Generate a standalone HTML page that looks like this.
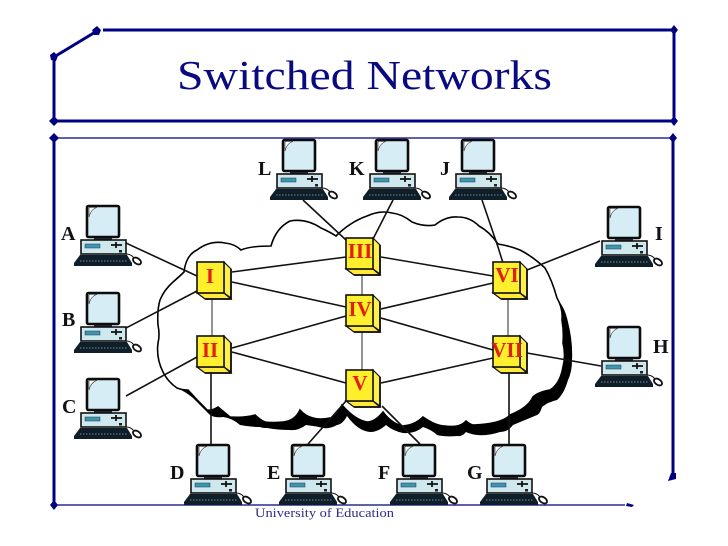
<!DOCTYPE html>
<html><head><meta charset="utf-8"><style>
html,body{margin:0;padding:0;background:#fff;width:728px;height:546px;overflow:hidden}
svg{display:block}
text{font-family:"Liberation Serif",serif}
.l{font-size:20px;font-weight:bold;fill:#111}
.s{font-size:21px;font-weight:bold;fill:#e0200c;text-anchor:middle}
.n{stroke:#111;stroke-width:1.6;fill:none}
.g{stroke:#666;stroke-width:1.4;fill:none}
.f{stroke:#000080;stroke-width:3;fill:none}
.t{stroke:#000080;stroke-width:1.3;fill:none}
</style></head><body>
<svg width="728" height="546" viewBox="0 0 728 546" xmlns="http://www.w3.org/2000/svg">
<defs>
<g id="pc">
<rect x="0" y="1" width="32" height="31" rx="1.5" fill="#d6edf5" stroke="#0c0c0c" stroke-width="2.6"/>
<path d="M2 12V3.5Q2 2.5 3 2.5H10Q4 4 2 12Z" fill="#fff" stroke="#333" stroke-width=".6"/>
<rect x="7" y="33" width="18" height="2.6" fill="#223"/>
<rect x="-6" y="35" width="45" height="14" fill="#cfe8ee" stroke="#111" stroke-width="1.6"/>
<rect x="-2" y="39" width="15" height="4" fill="#3c98b0" stroke="#234" stroke-width=".5"/>
<path d="M24 40H35M29 37V43" stroke="#111" stroke-width="1.8"/>
<rect x="32" y="45" width="3" height="2.5" fill="#222"/>
<path d="M-7 50H40L45 58V61H-13V58Z" fill="#0f1f2a"/>
<path d="M-7 56H40" stroke="#9ab" stroke-width=".7" stroke-dasharray="1.5 1.5"/>
<path d="M39 49Q44 49 47 53" stroke="#111" stroke-width="1" fill="none"/>
<ellipse cx="50" cy="56" rx="4.5" ry="2.8" transform="rotate(35 50 56)" fill="#fff" stroke="#111" stroke-width="1.8"/>
</g>
<g id="sw">
<path d="M27 0L34 7V36L27 31Z" fill="#fff04a" stroke="#111" stroke-width="1.2"/>
<path d="M0 31H27L34 37H8Z" fill="#ffe93a" stroke="#111" stroke-width="1.2"/>
<rect x="0" y="0" width="27" height="31" fill="#ffef2c" stroke="#111" stroke-width="1.6"/>
<path d="M34 7V37H8" stroke="#111" stroke-width="1.8" fill="none"/>
</g>
</defs>

<path class="f" d="M54 57L97 31M103 30H674V121H54V57"/>
<path class="t" d="M54 138H674M54 505H625"/>
<path class="f" d="M54 138V505M673 138V477"/>
<g fill="#000080">
<path d="M54 52l4 4-2 5-5-1-1-5z"/><path d="M97 26l4 4-2 5-5 0-2-5z"/>
<path d="M54 116l5 5-5 5-5-5zM54 133l5 5-5 5-5-5z"/>
<path d="M674 25l4 5-4 5-4-5zM674 116l4 5-4 5-4-5zM673 133l4 5-4 5-4-5zM54 500l4 5-4 5-4-5z"/>
<path d="M668 481l3-8h5v6z"/><path d="M627 503l7 2-2 2-6-1z"/>
</g>

<text x="177" y="89" font-size="41" fill="#0a0a80" textLength="375" lengthAdjust="spacingAndGlyphs">Switched Networks</text>
<text x="255" y="517" font-size="12.5" fill="#2c2c88" textLength="139" lengthAdjust="spacingAndGlyphs">University of Education</text>

<!-- cloud shadow -->
<path fill="#000" d="M552 285L558 300Q565 308 568 322Q573 342 572 360Q572 372 568 380Q564 394 557 400Q548 402 542 407Q540 414 537 415Q525 420 513 425Q508 432 500 432Q488 436 477 435Q470 434 466 432Q462 437 457 436Q445 437 437 435Q432 430 423 427Q415 434 403 433Q393 431 386 425Q378 432 370 432Q358 431 347 416Q343 424 337 425Q330 429 323 428Q315 426 306 425Q298 431 290 430Q278 430 267 428Q262 428 260 427Q250 427 240 425Q232 418 223 417Q215 418 210 415Q200 405 193 398Q186 392 177 388L172 370L300 395L500 395Z"/>
<!-- cloud -->
<path fill="#fff" stroke="#000" stroke-width="1.6" d="M177 388Q168 382 163 372Q156 358 158 343Q160 335 158 325Q157 310 160 300Q164 290 173 282Q180 276 184 272Q186 255 197 250Q210 240 225 243Q235 244 241 250Q250 246 271 246Q276 228 290 221Q306 218 321 228Q330 232 336 236Q350 222 367 216Q380 210 392 213Q402 214 412 222Q424 227 435 225Q446 216 458 217Q470 217 479 226Q490 232 498 244Q510 246 520 250Q532 256 545 268Q552 280 557 298Q563 308 562 320Q564 332 563 343Q566 355 563 367Q560 384 550 390Q538 392 533 397Q528 408 510 415Q502 424 473 425Q469 424 466 421Q460 428 445 426Q436 426 423 417Q415 425 403 426Q392 424 383 412Q375 422 367 422Q355 420 342 405Q336 418 330 418Q320 420 313 418Q305 416 300 410Q295 421 283 422Q272 423 265 422Q260 420 255 415Q245 418 230 417Q224 412 218 407Q212 411 207 410Q197 400 188 390Q182 390 177 388Z"/>

<g class="n">
<path d="M126 243L197 276M126 328L197 291M126 396L197 357"/>
<path d="M303 200L346 240M393 200L373 239M482 200L498 247L503 263"/>
<path d="M527 270L600 241M527 353L601 366"/>
<path d="M211 372V444M509 372V444M346 401L308 444M382 406L420 444"/>
<path d="M232 272L346 257M232 282L346 307M232 348L346 316M232 352L346 383"/>
<path d="M381 257L493 276M381 309L493 283M381 318L493 350M381 383L493 358"/>
</g>
<path class="g" d="M212 299V336M362 274V295M362 332V370M508 298V336"/>

<use href="#sw" x="197" y="262"/><use href="#sw" x="197" y="336"/>
<use href="#sw" x="346" y="238"/><use href="#sw" x="346" y="295"/><use href="#sw" x="346" y="370"/>
<use href="#sw" x="493" y="262"/><use href="#sw" x="493" y="336"/>

<text class="s" x="210" y="283">I</text>
<text class="s" x="210" y="357">II</text>
<text class="s" x="360" y="258">III</text>
<text class="s" x="360" y="316">IV</text>
<text class="s" x="360" y="390">V</text>
<text class="s" x="507" y="282">VI</text>
<text class="s" x="507" y="357">VII</text>

<use href="#pc" x="87" y="205"/><use href="#pc" x="87" y="292"/><use href="#pc" x="87" y="378"/>
<use href="#pc" x="197" y="444"/><use href="#pc" x="292" y="444"/><use href="#pc" x="403" y="444"/><use href="#pc" x="493" y="444"/>
<use href="#pc" x="608" y="326"/><use href="#pc" x="608" y="206"/>
<use href="#pc" x="283" y="139"/><use href="#pc" x="376" y="139"/><use href="#pc" x="462" y="139"/>

<text class="l" x="61" y="240">A</text>
<text class="l" x="62" y="326">B</text>
<text class="l" x="62" y="413">C</text>
<text class="l" x="170" y="479">D</text>
<text class="l" x="267" y="479">E</text>
<text class="l" x="378" y="479">F</text>
<text class="l" x="467" y="479">G</text>
<text class="l" x="653" y="353">H</text>
<text class="l" x="655" y="240">I</text>
<text class="l" x="440" y="175">J</text>
<text class="l" x="349" y="175">K</text>
<text class="l" x="258" y="175">L</text>
</svg>
</body></html>
